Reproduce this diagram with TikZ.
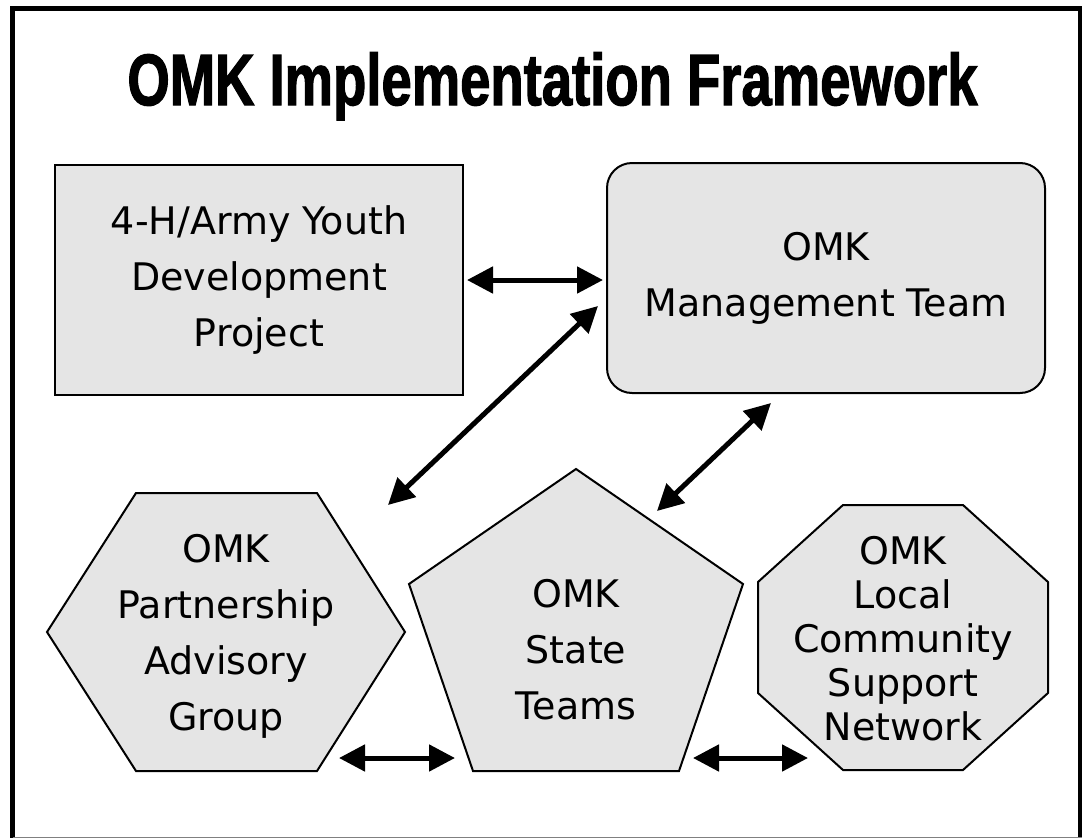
\documentclass[tikz,border=0pt]{standalone}
\usepackage{fontspec}
\setmainfont{DejaVu Sans}
\newfontfamily\titlefont[FakeBold=2]{Liberation Sans}
\usetikzlibrary{arrows.meta}
\usetikzlibrary{positioning}
\definecolor{boxgray}{HTML}{E5E5E5}

\begin{document}
\begin{tikzpicture}[x=1pt, y=-1pt]
	\useasboundingbox (0,0) rectangle (1082,838);
	\draw[line width=5pt] (12.5,840) -- (12.5,8.5) -- (1080,8.5) -- (1080,840);
	\draw[gray, line width=1.5pt] (12.5,837.5) -- (1082,837.5);
	\node[anchor=base] (title) at (552.5,105) {\titlefont\bfseries\scalebox{0.75}[1]{\fontsize{72.6}{80}\selectfont OMK Implementation Framework}};

	\begin{scope}[every node/.style={draw=black, fill=boxgray, line width=2pt, align=center, font=\fontsize{38}{56}\selectfont}]
		\node[minimum width=408pt, minimum height=230pt] (proj) at (259,280) {4-H/Army Youth\\Development\\Project};
		\node[rounded corners=25pt, minimum width=438pt, minimum height=230pt] (mgmt) at (826,278) {OMK\\Management Team};
	\end{scope}

	\begin{scope}[line width=2pt]
		\filldraw[fill=boxgray] (47,632) -- (136,493) -- (317,493) -- (405,632) -- (317,771) -- (136,771) -- cycle;
		\filldraw[fill=boxgray] (576,469) -- (743,584) -- (679,771) -- (473,771) -- (409,584) -- cycle;
		\filldraw[fill=boxgray] (843,505) -- (963,505) -- (1048,582) -- (1048,693) -- (963,770) -- (843,770) -- (758,693) -- (758,582) -- cycle;
	\end{scope}

	\begin{scope}[every node/.style={align=center, font=\fontsize{38}{56}\selectfont}]
		\node (pag) at (226,636) {OMK\\Partnership\\Advisory\\Group};
		\node (state) at (576,650) {OMK\\State\\Teams};
		\node[font=\fontsize{38}{44}\selectfont] (local) at (903,639) {OMK\\Local\\Community\\Support\\Network};
	\end{scope}

	\coordinate (pag-ne) at (388,505);
	\coordinate (mgmt-w) at (598,306);
	\coordinate (state-ne) at (657,511);
	\coordinate (mgmt-s) at (771,403);
	\coordinate (pag-e) at (339,758);
	\coordinate (state-w) at (455,758);
	\coordinate (state-e) at (693,758);
	\coordinate (local-w) at (808,758);

	\begin{scope}[>={Triangle[length=26pt,width=26pt]},
	              every edge/.style={draw=black, line width=5pt, <->}]
		\path (proj.east) edge[shorten <=3pt, shorten >=3pt] (proj.east -| mgmt.west);
		\path (pag-ne) edge (mgmt-w);
		\path (state-ne) edge (mgmt-s);
		\path (pag-e) edge (state-w);
		\path (state-e) edge (local-w);
	\end{scope}
\end{tikzpicture}
\end{document}
